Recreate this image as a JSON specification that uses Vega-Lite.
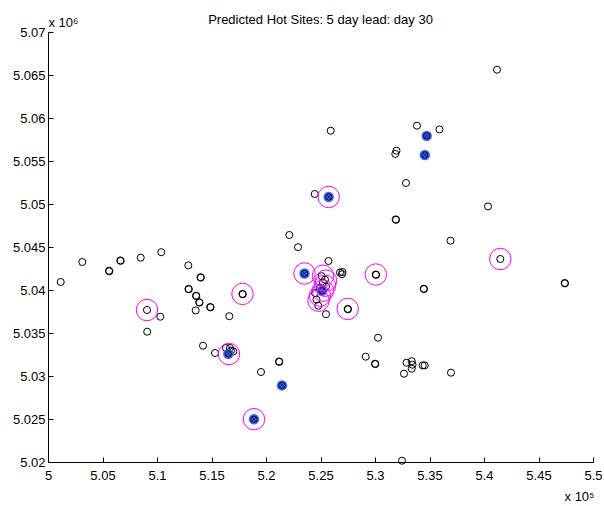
{
  "$schema": "https://vega.github.io/schema/vega-lite/v6.json",
  "width": 545,
  "height": 430,
  "autosize": {"type": "none"},
  "padding": {"left": 48, "top": 32, "right": 11, "bottom": 44},
  "title": {"text": "Predicted Hot Sites: 5 day lead: day 30", "fontSize": 13, "font": "Liberation Sans", "fontWeight": "normal", "color": "#000000", "anchor": "middle", "frame": "group", "baseline": "alphabetic", "offset": -21},
  "config": {
    "view": {"stroke": null},
    "axis": {"grid": false, "domainColor": "#000000", "tickColor": "#000000", "labelColor": "#000000", "titleColor": "#000000", "labelFont": "Liberation Sans", "titleFont": "Liberation Sans", "labelFontSize": 13, "titleFontSize": 13, "titleFontWeight": "normal", "tickSize": -5, "labelFlush": false, "labelOverlap": false, "labelBound": false}
  },
  "data": {"values": [
    {"x": 501165, "y": 5040930, "kind": "site"},
    {"x": 503147, "y": 5043256, "kind": "site"},
    {"x": 505596, "y": 5042244, "kind": "site"},
    {"x": 505624, "y": 5042174, "kind": "site"},
    {"x": 506633, "y": 5043442, "kind": "site"},
    {"x": 506661, "y": 5043384, "kind": "site"},
    {"x": 508505, "y": 5043756, "kind": "site"},
    {"x": 510394, "y": 5044395, "kind": "site"},
    {"x": 512872, "y": 5042860, "kind": "site"},
    {"x": 513991, "y": 5041488, "kind": "site"},
    {"x": 514019, "y": 5041442, "kind": "site"},
    {"x": 512890, "y": 5040128, "kind": "site"},
    {"x": 512917, "y": 5040081, "kind": "site"},
    {"x": 513578, "y": 5039337, "kind": "site"},
    {"x": 513605, "y": 5039291, "kind": "site"},
    {"x": 513872, "y": 5038581, "kind": "site"},
    {"x": 513899, "y": 5038535, "kind": "site"},
    {"x": 514881, "y": 5038023, "kind": "site"},
    {"x": 514908, "y": 5037977, "kind": "site"},
    {"x": 513550, "y": 5037628, "kind": "site"},
    {"x": 509083, "y": 5037674, "kind": "site"},
    {"x": 510303, "y": 5036895, "kind": "site"},
    {"x": 509101, "y": 5035151, "kind": "site"},
    {"x": 516633, "y": 5036953, "kind": "site"},
    {"x": 517844, "y": 5039547, "kind": "site"},
    {"x": 517872, "y": 5039500, "kind": "site"},
    {"x": 514220, "y": 5033523, "kind": "site"},
    {"x": 515321, "y": 5032674, "kind": "site"},
    {"x": 516330, "y": 5033256, "kind": "site"},
    {"x": 516697, "y": 5033256, "kind": "site"},
    {"x": 517000, "y": 5032860, "kind": "site"},
    {"x": 516541, "y": 5032674, "kind": "site"},
    {"x": 516789, "y": 5032942, "kind": "site"},
    {"x": 519541, "y": 5030465, "kind": "site"},
    {"x": 521193, "y": 5031686, "kind": "site"},
    {"x": 521220, "y": 5031640, "kind": "site"},
    {"x": 522138, "y": 5046395, "kind": "site"},
    {"x": 522936, "y": 5044977, "kind": "site"},
    {"x": 525734, "y": 5043372, "kind": "site"},
    {"x": 526789, "y": 5042035, "kind": "site"},
    {"x": 527018, "y": 5042093, "kind": "site"},
    {"x": 526972, "y": 5041837, "kind": "site"},
    {"x": 530073, "y": 5041802, "kind": "site"},
    {"x": 530101, "y": 5041756, "kind": "site"},
    {"x": 525110, "y": 5041605, "kind": "site"},
    {"x": 525229, "y": 5040849, "kind": "site"},
    {"x": 524954, "y": 5040267, "kind": "site"},
    {"x": 524495, "y": 5039651, "kind": "site"},
    {"x": 524633, "y": 5038872, "kind": "site"},
    {"x": 524798, "y": 5038174, "kind": "site"},
    {"x": 525413, "y": 5041198, "kind": "site"},
    {"x": 525505, "y": 5040384, "kind": "site"},
    {"x": 525505, "y": 5037186, "kind": "site"},
    {"x": 527495, "y": 5037802, "kind": "site"},
    {"x": 527523, "y": 5037756, "kind": "site"},
    {"x": 525936, "y": 5058523, "kind": "site"},
    {"x": 533853, "y": 5059105, "kind": "site"},
    {"x": 535917, "y": 5058674, "kind": "site"},
    {"x": 531972, "y": 5056198, "kind": "site"},
    {"x": 531862, "y": 5055826, "kind": "site"},
    {"x": 532844, "y": 5052442, "kind": "site"},
    {"x": 524468, "y": 5051163, "kind": "site"},
    {"x": 540367, "y": 5049721, "kind": "site"},
    {"x": 531899, "y": 5048209, "kind": "site"},
    {"x": 531927, "y": 5048163, "kind": "site"},
    {"x": 536927, "y": 5045733, "kind": "site"},
    {"x": 541193, "y": 5065616, "kind": "site"},
    {"x": 541496, "y": 5043605, "kind": "site"},
    {"x": 547404, "y": 5040814, "kind": "site"},
    {"x": 547431, "y": 5040767, "kind": "site"},
    {"x": 534468, "y": 5040151, "kind": "site"},
    {"x": 534495, "y": 5040105, "kind": "site"},
    {"x": 530275, "y": 5034453, "kind": "site"},
    {"x": 529147, "y": 5032244, "kind": "site"},
    {"x": 529999, "y": 5031430, "kind": "site"},
    {"x": 530027, "y": 5031384, "kind": "site"},
    {"x": 532890, "y": 5031547, "kind": "site"},
    {"x": 533367, "y": 5031721, "kind": "site"},
    {"x": 533440, "y": 5031314, "kind": "site"},
    {"x": 533367, "y": 5030849, "kind": "site"},
    {"x": 532661, "y": 5030267, "kind": "site"},
    {"x": 534376, "y": 5031233, "kind": "site"},
    {"x": 534560, "y": 5031233, "kind": "site"},
    {"x": 536972, "y": 5030384, "kind": "site"},
    {"x": 532477, "y": 5020151, "kind": "site"},
    {"x": 534743, "y": 5057919, "kind": "hot"},
    {"x": 534569, "y": 5055698, "kind": "hot"},
    {"x": 525752, "y": 5050814, "kind": "hot"},
    {"x": 523532, "y": 5041919, "kind": "hot"},
    {"x": 525138, "y": 5039919, "kind": "hot"},
    {"x": 516541, "y": 5032570, "kind": "hot"},
    {"x": 521468, "y": 5028907, "kind": "hot"},
    {"x": 518899, "y": 5024977, "kind": "hot"},
    {"x": 509083, "y": 5037674, "kind": "pred"},
    {"x": 517844, "y": 5039547, "kind": "pred"},
    {"x": 516605, "y": 5032558, "kind": "pred"},
    {"x": 518899, "y": 5024977, "kind": "pred"},
    {"x": 523532, "y": 5041919, "kind": "pred"},
    {"x": 525752, "y": 5050814, "kind": "pred"},
    {"x": 530073, "y": 5041802, "kind": "pred"},
    {"x": 527495, "y": 5037802, "kind": "pred"},
    {"x": 541496, "y": 5043605, "kind": "pred"},
    {"x": 525229, "y": 5041663, "kind": "pred"},
    {"x": 525505, "y": 5041081, "kind": "pred"},
    {"x": 525413, "y": 5040500, "kind": "pred"},
    {"x": 525229, "y": 5039919, "kind": "pred"},
    {"x": 524954, "y": 5039337, "kind": "pred"},
    {"x": 524817, "y": 5038756, "kind": "pred"}
  ]},
  "encoding": {
    "x": {"field": "x", "type": "quantitative",
      "scale": {"domain": [500000, 550000], "nice": false, "zero": false},
      "axis": {"values": [500000, 505000, 510000, 515000, 520000, 525000, 530000, 535000, 540000, 545000, 550000],
        "labelExpr": "format(datum.value / 100000, '.2~f')", "labelPadding": 12,
        "title": "x 10⁵", "titleX": 546, "titleY": 38, "titleAlign": "right", "titleBaseline": "alphabetic", "titleAnchor": null}},
    "y": {"field": "y", "type": "quantitative",
      "scale": {"domain": [5020000, 5070000], "nice": false, "zero": false},
      "axis": {"values": [5020000, 5025000, 5030000, 5035000, 5040000, 5045000, 5050000, 5055000, 5060000, 5065000, 5070000],
        "labelExpr": "format(datum.value / 1000000, '.3~f')", "labelPadding": 8,
        "title": "x 10⁶", "titleAngle": 0, "titleX": 0, "titleY": -6, "titleAlign": "left", "titleBaseline": "alphabetic"}}
  },
  "layer": [
    {"transform": [{"filter": "datum.kind === 'site'"}],
     "mark": {"type": "point", "shape": "circle", "size": 50, "filled": false, "stroke": "#000000", "strokeWidth": 1, "opacity": 1}},
    {"transform": [{"filter": "datum.kind === 'hot'"}],
     "mark": {"type": "point", "shape": "circle", "size": 110, "filled": true, "fill": "#3f63ff", "opacity": 1, "strokeWidth": 0}},
    {"transform": [{"filter": "datum.kind === 'hot'"}],
     "mark": {"type": "point", "shape": "circle", "size": 40, "filled": false, "stroke": "#000000", "strokeWidth": 0.9, "opacity": 1}},
    {"transform": [{"filter": "datum.kind === 'hot'"}],
     "mark": {"type": "point", "shape": "M-1,-1L1,1M1,-1L-1,1", "size": 20, "filled": false, "stroke": "#000000", "strokeWidth": 0.7, "opacity": 1}},
    {"transform": [{"filter": "datum.kind === 'pred'"}],
     "mark": {"type": "point", "shape": "circle", "size": 460, "filled": false, "stroke": "#ff00ff", "strokeWidth": 1, "opacity": 1}}
  ]
}
